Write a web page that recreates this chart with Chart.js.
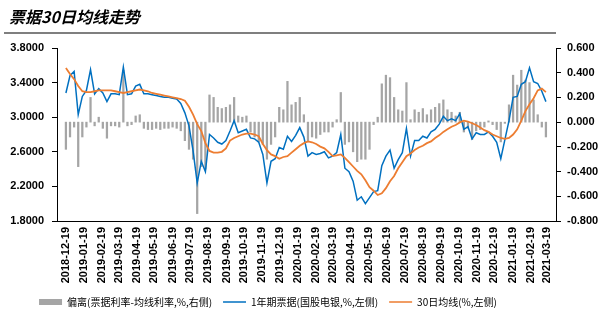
<!DOCTYPE html>
<html>
<head>
<meta charset="utf-8">
<script src="https://cdn.jsdelivr.net/npm/chart.js@4.4.0/dist/chart.umd.min.js"></script>
<style>
  html, body { margin: 0; padding: 0; background: #fff; }
  #wrap { position: relative; width: 610px; height: 322px; }
  #title { position: absolute; left: 9px; top: 8px; font: italic bold 16px "Noto Sans CJK SC", sans-serif; line-height: 16px; color: #000; }
  #rule { position: absolute; left: 4px; top: 32px; width: 552px; height: 2px; background: #7f7f7f; }
  canvas { position: absolute; left: 0; top: 0; }
</style>
</head>
<body>
<div id="wrap">
  <canvas id="c" width="610" height="322"></canvas>
  <div id="title">票据30日均线走势</div>
  <div id="rule"></div>
</div>
<script>
// weekly samples starting 2018-12-19
const startDate = '2018-12-19';
const stepDays = 7;

const monthLabels = [
  '2018-12-19', '2019-01-19', '2019-02-19', '2019-03-19', '2019-04-19', '2019-05-19', '2019-06-19',
  '2019-07-19', '2019-08-19', '2019-09-19', '2019-10-19', '2019-11-19', '2019-12-19', '2020-01-19',
  '2020-02-19', '2020-03-19', '2020-04-19', '2020-05-19', '2020-06-19', '2020-07-19', '2020-08-19',
  '2020-09-19', '2020-10-19', '2020-11-19', '2020-12-19', '2021-01-19', '2021-02-19', '2021-03-19'
];

// 1年期票据(国股电银), %, left axis
const rate1y = [
  3.28, 3.48, 3.53, 3.03, 3.24, 3.31, 3.55, 3.27, 3.33, 3.28,
  3.18, 3.27, 3.27, 3.26, 3.58, 3.26, 3.27, 3.36, 3.38, 3.27,
  3.27, 3.26, 3.25, 3.24, 3.23, 3.23, 3.22, 3.21, 3.16, 3.05,
  2.90, 2.61, 2.24, 2.49, 2.37, 2.80, 2.76, 2.71, 2.69, 2.73,
  2.84, 2.96, 2.82, 2.84, 2.86, 2.76, 2.75, 2.71, 2.57, 2.24,
  2.49, 2.52, 2.65, 2.63, 2.78, 2.72, 2.79, 2.88, 2.77, 2.55,
  2.59, 2.57, 2.58, 2.60, 2.53, 2.55, 2.59, 2.80, 2.41, 2.37,
  2.26, 2.04, 2.08, 2.00, 2.07, 2.14, 2.15, 2.44, 2.55, 2.62,
  2.41, 2.51, 2.59, 2.87, 2.55, 2.73, 2.73, 2.78, 2.76, 2.83,
  2.86, 2.92, 3.01, 2.96, 2.98, 2.96, 3.04, 2.86, 2.89, 2.75,
  2.82, 2.80, 2.80, 2.83, 2.78, 2.71, 2.52, 2.74, 2.96, 3.23,
  3.24, 3.38, 3.41, 3.57, 3.41, 3.39, 3.30, 3.18
];

// 30日均线, %, left axis
const ma30 = [
  3.57, 3.50, 3.44, 3.36, 3.30, 3.29, 3.29, 3.30, 3.31, 3.31,
  3.31, 3.31, 3.30, 3.29, 3.28, 3.29, 3.30, 3.31, 3.32, 3.31,
  3.30, 3.28, 3.27, 3.26, 3.25, 3.24, 3.23, 3.22, 3.21, 3.19,
  3.12, 3.03, 2.92, 2.84, 2.70, 2.61, 2.59, 2.59, 2.60, 2.64,
  2.73, 2.76, 2.78, 2.80, 2.81, 2.81, 2.80, 2.78, 2.69, 2.62,
  2.57, 2.55, 2.52, 2.54, 2.55, 2.59, 2.63, 2.67, 2.70, 2.72,
  2.71, 2.69, 2.66, 2.64, 2.60, 2.55, 2.56, 2.57, 2.53, 2.48,
  2.43, 2.38, 2.34, 2.27, 2.19, 2.15, 2.10, 2.12, 2.18, 2.26,
  2.32, 2.41, 2.48, 2.55, 2.58, 2.62, 2.65, 2.67, 2.70, 2.72,
  2.76, 2.79, 2.83, 2.86, 2.89, 2.91, 2.94, 2.96, 2.95, 2.93,
  2.91, 2.88, 2.85, 2.83, 2.80, 2.78, 2.76, 2.75, 2.76, 2.80,
  2.86, 2.96, 3.07, 3.15, 3.22, 3.31, 3.33, 3.29
];

// 偏离(票据利率-均线利率), %, right axis
const deviation = [
  -0.22, -0.12, -0.04, -0.36, -0.12, -0.04, 0.20, -0.03, 0.04, -0.05,
  -0.13, -0.03, -0.03, -0.04, 0.42, -0.03, -0.02, 0.05, 0.06, -0.05,
  -0.06, -0.06, -0.05, -0.06, -0.05, -0.05, -0.04, -0.05, -0.07, -0.15,
  -0.22, -0.30, -0.74, -0.36, -0.38, 0.22, 0.20, 0.12, 0.11, 0.12,
  0.14, 0.20, 0.05, 0.04, 0.05, -0.08, -0.12, -0.16, -0.18, -0.30,
  -0.18, -0.12, 0.12, 0.10, 0.33, 0.14, 0.16, 0.20, 0.06, -0.16,
  -0.12, -0.13, -0.10, -0.08, -0.08, -0.04, 0.02, 0.24, -0.18, -0.16,
  -0.24, -0.32, -0.30, -0.30, -0.22, -0.02, 0.04, 0.31, 0.38, 0.36,
  0.20, 0.10, 0.09, 0.32, 0.02, 0.10, 0.08, 0.11, 0.06, 0.10,
  0.12, 0.15, 0.18, 0.10, 0.08, 0.05, 0.08, -0.08, -0.05, -0.14,
  -0.07, -0.06, -0.04, 0.01, -0.02, -0.06, -0.16, -0.01, 0.14, 0.38,
  0.30, 0.42, 0.34, 0.32, 0.18, 0.06, -0.04, -0.12
];

const dayOf = s => (Date.parse(s) - Date.parse(startDate)) / 86400000;
const monthTicks = monthLabels.map(dayOf);
const pts = arr => arr.map((v, i) => ({ x: i * stepDays, y: v }));

const tickFont = { family: '"Liberation Sans", Arial, sans-serif', size: 11, weight: 'bold' };
const fmt = d => v => (Math.abs(v) < 1e-9 ? 0 : v).toFixed(d);

// legend sits left of centre in the original
const shiftLegend = {
  id: 'shiftLegend',
  afterLayout(chart) {
    const l = chart.legend;
    l.left -= 37; l.right -= 37;
    l.top -= 3; l.bottom -= 3;
  }
};

new Chart(document.getElementById('c'), {
  type: 'line',
  data: {
    datasets: [
      {
        type: 'bar',
        label: '偏离(票据利率-均线利率,%,右侧)',
        data: pts(deviation),
        yAxisID: 'y1',
        backgroundColor: '#a5a5a5',
        borderWidth: 0,
        barThickness: 1.6,
        order: 2
      },
      {
        label: '1年期票据(国股电银,%,左侧)',
        data: pts(rate1y),
        yAxisID: 'y',
        borderColor: '#0070c0',
        borderWidth: 1.5,
        pointRadius: 0,
        pointBorderWidth: 1.5,
        order: 1
      },
      {
        label: '30日均线(%,左侧)',
        data: pts(ma30),
        yAxisID: 'y',
        borderColor: '#ed7d31',
        borderWidth: 1.8,
        pointRadius: 0,
        pointBorderWidth: 1.5,
        order: 0
      }
    ]
  },
  options: {
    responsive: false,
    animation: false,
    layout: { padding: { top: 48, right: 0, bottom: 2, left: 0 } },
    scales: {
      x: {
        type: 'linear',
        min: 0,
        max: dayOf(monthLabels[monthLabels.length - 1]),
        afterBuildTicks: s => { s.ticks = monthTicks.map(v => ({ value: v })); },
        afterFit: s => { s.height = 68; s.paddingLeft = 0; s.paddingRight = 0; },
        ticks: {
          autoSkip: false,
          minRotation: 90,
          maxRotation: 90,
          padding: 6,
          font: tickFont,
          color: '#000',
          callback: (v, i) => monthLabels[i]
        },
        grid: { display: false, drawTicks: false },
        border: { color: '#000', width: 1 }
      },
      y: {
        position: 'left',
        min: 1.8,
        max: 3.8,
        afterFit: s => { s.width = 57; s.paddingTop = 0; s.paddingBottom = 0; },
        ticks: { stepSize: 0.4, callback: fmt(4), font: tickFont, color: '#000', padding: 8 },
        grid: { drawOnChartArea: false, tickLength: 5, color: '#000' },
        border: { color: '#000', width: 1 }
      },
      y1: {
        position: 'right',
        min: -0.8,
        max: 0.6,
        afterFit: s => { s.width = 54; s.paddingTop = 0; s.paddingBottom = 0; },
        ticks: { stepSize: 0.2, callback: fmt(3), font: tickFont, color: '#000', padding: 6 },
        grid: { drawOnChartArea: false, tickLength: 5, color: '#000' },
        border: { color: '#000', width: 1 }
      }
    },
    plugins: {
      tooltip: { enabled: false },
      legend: {
        position: 'bottom',
        labels: {
          usePointStyle: true,
          pointStyleWidth: 23,
          boxHeight: 6,
          padding: 11,
          color: '#000',
          font: { family: '"Noto Sans CJK SC", sans-serif', size: 10 },
          sort: (a, b) => a.datasetIndex - b.datasetIndex,
          generateLabels: chart => Chart.defaults.plugins.legend.labels.generateLabels(chart).map(l => {
            l.pointStyle = l.datasetIndex === 0 ? 'rect' : 'line';
            return l;
          })
        }
      }
    }
  },
  plugins: [shiftLegend]
});
</script>
</body>
</html>
